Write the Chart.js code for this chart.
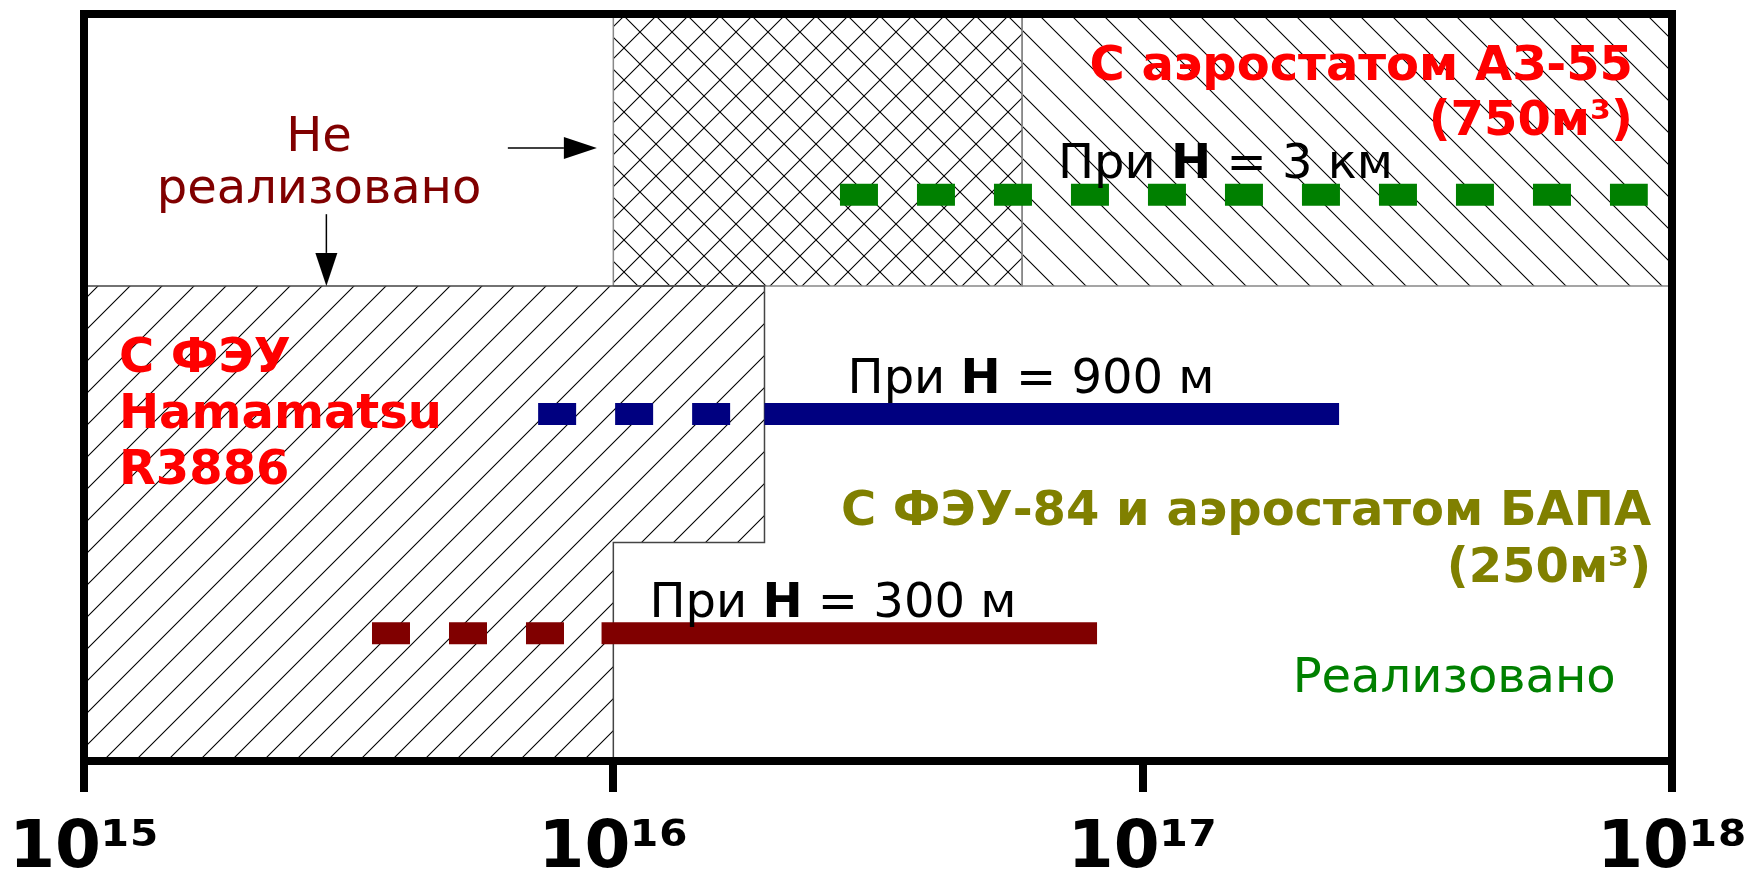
<!DOCTYPE html>
<html><head><meta charset="utf-8">
<script src="https://cdn.jsdelivr.net/npm/chart.js@4.4.0/dist/chart.umd.min.js"></script>
<style>html,body{margin:0;padding:0;background:#fff}#wrap{width:1750px;height:872px;position:relative}</style>
</head><body><div id="wrap"><canvas id="c"></canvas></div>
<script>
// ---- data ----
const tickValues = [1e15, 1e16, 1e17, 1e18];
const tickLabels = ['10¹⁵', '10¹⁶', '10¹⁷', '10¹⁸'];
// regions (polygons in data units: x = energy, y = relative level 0..100)
const hamamatsuX = [1e15, 1e15, 1.93e16, 1.93e16, 1e16, 1e16, 1e15];
const hamamatsuY = [0, 63.6, 63.6, 29.25, 29.25, 0, 0];
const overlapX = [1e16, 1e16, 5.92e16, 5.92e16, 1e16];
const overlapY = [63.6, 100, 100, 63.6, 63.6];
const az55X = [5.92e16, 5.92e16, 1e18, 1e18, 5.92e16];
const az55Y = [63.6, 100, 100, 63.6, 63.6];
// altitude lines
const h3kmDashX = [2.68e16, 9.0e17];   const h3kmY = 75.8;
const h900DashX = [7.21e15, 1.93e16];  const h900SolidX = [1.93e16, 2.35e17]; const h900Y = 46.45;
const h300DashX = [3.5e15, 9.5e15];    const h300SolidX = [9.5e15, 8.2e16];  const h300Y = 17.1;

const FONT = '"DejaVu Sans", "Noto Sans", sans-serif';

function pts(xs, ys) { return xs.map((x, i) => ({x: x, y: Array.isArray(ys) ? ys[i] : ys})); }

function hatch(kind) {
  const s = 32;
  const c = document.createElement('canvas'); c.width = s; c.height = s;
  const g = c.getContext('2d');
  g.strokeStyle = '#000'; g.lineWidth = 1.1;
  g.beginPath();
  if (kind.indexOf('/') >= 0) {
    for (const k of [0, s, 2 * s]) { g.moveTo(k - s - 4, s + 4); g.lineTo(k + 4, -4); }
  }
  if (kind.indexOf('\\') >= 0) {
    for (const k of [-s, 0, s]) { g.moveTo(k - 4, -4); g.lineTo(k + s + 4, s + 4); }
  }
  g.stroke();
  return g.createPattern(c, 'repeat');
}

const regionStyle = {showLine: true, fill: 'shape', pointRadius: 0, pointHoverRadius: 0,
  borderColor: '#666', borderWidth: 1.5, tension: 0, order: 10};
const lineStyle = {showLine: true, fill: false, pointRadius: 0, pointHoverRadius: 0,
  borderWidth: 22, borderCapStyle: 'butt', tension: 0, order: 1};

const datasets = [
  Object.assign({}, regionStyle, {data: pts(hamamatsuX, hamamatsuY), backgroundColor: hatch('/'), borderColor: '#444'}),
  Object.assign({}, regionStyle, {data: pts(overlapX, overlapY), backgroundColor: hatch('/\\'), borderColor: '#888'}),
  Object.assign({}, regionStyle, {data: pts(az55X, az55Y), backgroundColor: hatch('\\'), borderColor: '#888'}),
  Object.assign({}, lineStyle, {data: pts(h3kmDashX, h3kmY), borderColor: '#008000', borderDash: [38, 39]}),
  Object.assign({}, lineStyle, {data: pts(h900DashX, h900Y), borderColor: '#000080', borderDash: [38, 39]}),
  Object.assign({}, lineStyle, {data: pts(h900SolidX, h900Y), borderColor: '#000080'}),
  Object.assign({}, lineStyle, {data: pts(h300DashX, h300Y), borderColor: '#800000', borderDash: [38, 39]}),
  Object.assign({}, lineStyle, {data: pts(h300SolidX, h300Y), borderColor: '#800000'})
];

// text annotations (positions in data units)
const notes = [
  {x: 2.78e15, y: 81.66, align: 'center', color: '#800000', size: 48, runs: [['Не', false]]},
  {x: 2.78e15, y: 74.7, align: 'center', color: '#800000', size: 48, runs: [['реализовано', false]]},
  {x: 8.44e17, y: 91.2, align: 'right', color: '#ff0000', size: 48, runs: [['С аэростатом АЗ-55', true]]},
  {x: 8.44e17, y: 83.8, align: 'right', color: '#ff0000', size: 48, runs: [['(750м³)', true]]},
  {x: 6.92e16, y: 78.0, align: 'left', color: '#000', size: 48, runs: [['При ', false], ['H', true], [' = 3 км', false]]},
  {x: 1.164e15, y: 52.1, align: 'left', color: '#ff0000', size: 48, runs: [['С ФЭУ', true]]},
  {x: 1.164e15, y: 44.6, align: 'left', color: '#ff0000', size: 48, runs: [['Hamamatsu', true]]},
  {x: 1.164e15, y: 37.1, align: 'left', color: '#ff0000', size: 48, runs: [['R3886', true]]},
  {x: 2.77e16, y: 49.3, align: 'left', color: '#000', size: 48, runs: [['При ', false], ['H', true], [' = 900 м', false]]},
  {x: 9.13e17, y: 31.6, align: 'right', color: '#808000', size: 48, runs: [['С ФЭУ-84 и аэростатом БАПА', true]]},
  {x: 9.13e17, y: 24.0, align: 'right', color: '#808000', size: 48, runs: [['(250м³)', true]]},
  {x: 1.17e16, y: 19.3, align: 'left', color: '#000', size: 48, runs: [['При ', false], ['H', true], [' = 300 м', false]]},
  {x: 1.92e17, y: 9.24, align: 'left', color: '#008000', size: 48, runs: [['Реализовано', false]]}
];
const arrows = [
  {x0: 6.32e15, y0: 82.06, x1: 9.31e15, y1: 82.06},
  {x0: 2.87e15, y0: 73.2, x1: 2.87e15, y1: 63.6}
];

const overlay = {
  id: 'overlay',
  afterDatasetsDraw(chart) {
    const ctx = chart.ctx, xs = chart.scales.x, ys = chart.scales.y;
    ctx.save();
    ctx.textBaseline = 'alphabetic';
    for (const n of notes) {
      const fontOf = b => (b ? 'bold ' : '') + n.size + 'px ' + FONT;
      let total = 0;
      for (const r of n.runs) { ctx.font = fontOf(r[1]); total += ctx.measureText(r[0]).width; }
      let px = xs.getPixelForValue(n.x);
      if (n.align === 'center') px -= total / 2; else if (n.align === 'right') px -= total;
      const py = ys.getPixelForValue(n.y);
      ctx.fillStyle = n.color; ctx.textAlign = 'left';
      for (const r of n.runs) { ctx.font = fontOf(r[1]); ctx.fillText(r[0], px, py); px += ctx.measureText(r[0]).width; }
    }
    ctx.strokeStyle = '#000'; ctx.fillStyle = '#000'; ctx.lineWidth = 1.5;
    for (const a of arrows) {
      const x0 = xs.getPixelForValue(a.x0), y0 = ys.getPixelForValue(a.y0);
      const x1 = xs.getPixelForValue(a.x1), y1 = ys.getPixelForValue(a.y1);
      const ang = Math.atan2(y1 - y0, x1 - x0), L = 33, W = 11;
      const bx = x1 - L * Math.cos(ang), by = y1 - L * Math.sin(ang);
      ctx.beginPath(); ctx.moveTo(x0, y0); ctx.lineTo(bx, by); ctx.stroke();
      ctx.beginPath(); ctx.moveTo(x1, y1);
      ctx.lineTo(bx - W * Math.sin(ang), by + W * Math.cos(ang));
      ctx.lineTo(bx + W * Math.sin(ang), by - W * Math.cos(ang));
      ctx.closePath(); ctx.fill();
    }
    ctx.restore();
  },
  afterDraw(chart) {
    const ctx = chart.ctx, a = chart.chartArea;
    ctx.save();
    ctx.strokeStyle = '#000'; ctx.lineWidth = 8; ctx.lineJoin = 'miter';
    ctx.strokeRect(a.left, a.top, a.right - a.left, a.bottom - a.top);
    ctx.restore();
  }
};

new Chart(document.getElementById('c'), {
  type: 'scatter',
  data: {datasets: datasets},
  options: {
    responsive: true, maintainAspectRatio: false, animation: false,
    events: [],
    layout: {padding: {left: 84, right: 78, top: 14, bottom: 0}},
    plugins: {legend: {display: false}, tooltip: {enabled: false}},
    scales: {
      x: {
        type: 'logarithmic', min: 1e15, max: 1e18, position: 'bottom',
        afterBuildTicks(scale) { scale.ticks = tickValues.map(v => ({value: v, major: true})); },
        afterFit(scale) { scale.height = 111; scale.paddingLeft = 0; scale.paddingRight = 0; },
        border: {display: false},
        grid: {display: true, drawOnChartArea: false, drawTicks: true, tickLength: 31, tickWidth: 8, tickColor: '#000', lineWidth: 8, color: '#000'},
        ticks: {
          autoSkip: false, maxRotation: 0, padding: 18, color: '#000',
          font: {family: FONT, size: 66, weight: 'bold'},
          callback(v) { const i = tickValues.indexOf(v); return i >= 0 ? tickLabels[i] : ''; }
        }
      },
      y: {type: 'linear', min: 0, max: 100, display: false}
    }
  },
  plugins: [overlay]
});
</script>
</body></html>
